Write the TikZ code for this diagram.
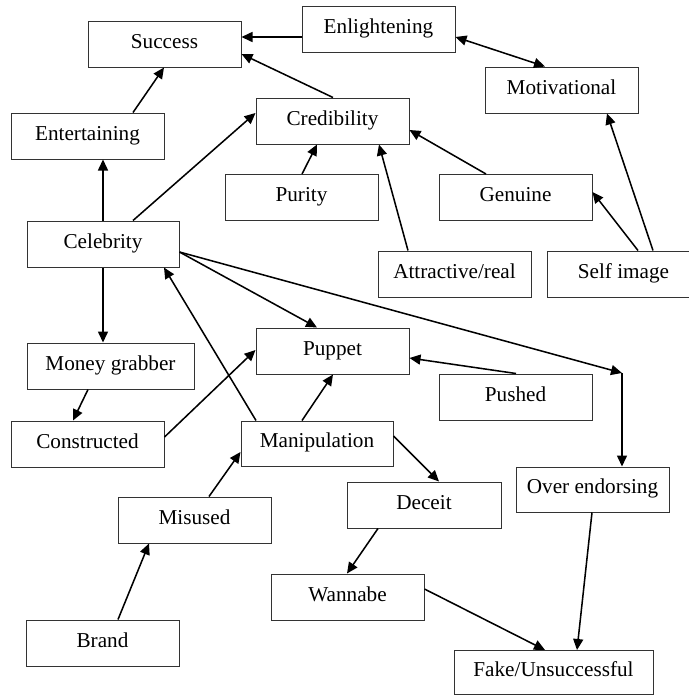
\documentclass[tikz,border=0pt]{standalone}
\usepackage{fontspec}
\setmainfont{Liberation Serif}
\usetikzlibrary{arrows.meta,calc}
\begin{document}
\begin{tikzpicture}[x=0.75pt,y=-0.75pt,
  box/.style={draw=black!80,line width=0.75pt,rectangle,inner sep=0pt,
    minimum width=114.75pt,minimum height=34.5pt,
    font=\fontsize{15.9}{19}\selectfont,text height=11pt,text depth=5pt},
  conn/.style={line width=1.15pt,-{Triangle[length=8.25pt,width=7.5pt]}},
  both/.style={line width=1.15pt,{Triangle[length=8.25pt,width=7.5pt]}-{Triangle[length=8.25pt,width=7.5pt]}}]
\useasboundingbox (0,0) rectangle (689,697);
\clip (0,0) rectangle (689,697);
% nodes
\node[box] (success) at (164.5,44) {Success};
\node[box] (enl) at (378.5,29) {Enlightening};
\node[box] (motiv) at (561.5,90) {Motivational};
\node[box] (entert) at (87.5,136) {Entertaining};
\node[box] (cred) at (332.5,121) {Credibility};
\node[box] (purity) at (301.5,197.5) {Purity};
\node[box] (genuine) at (515.5,197.5) {Genuine};
\node[box,minimum width=114pt] (celeb) at (103,244) {Celebrity};
\node[box] (attr) at (454.5,274) {Attractive/real};
\node[box] (self) at (623.5,274) {Self image};
\node[box,minimum width=125.25pt] (money) at (110.5,366) {Money grabber};
\node[box] (constr) at (87.5,444) {Constructed};
\node[box] (puppet) at (332.5,351) {Puppet};
\node[box,minimum width=114pt,minimum height=33.75pt] (manip) at (317,443.5) {Manipulation};
\node[box] (pushed) at (515.5,397) {Pushed};
\node[box,minimum height=33.75pt] (overend) at (592.5,489.5) {Over endorsing};
\node[box,minimum width=115.5pt] (deceit) at (424,505) {Deceit};
\node[box] (misused) at (194.5,520) {Misused};
\node[box] (wannabe) at (347.5,597) {Wannabe};
\node[box] (brand) at (102.5,643) {Brand};
\node[box,minimum width=149.25pt,minimum height=33pt] (fake) at (553.5,672.5) {Fake/Unsuccessful};
\coordinate (bend) at (622,373);
% connectors
\draw[conn] ($(enl.west)+(0,8)$) -- ($(success.east)+(0,-7)$);
\draw[conn] ($(cred.north)+(0.5,0)$) -- ($(success.east)+(0,10)$);
\draw[both] ($(enl.east)+(0,8)$) -- ($(motiv.north)+(-16.5,0)$);
\draw[conn] ($(entert.north)+(45.5,0)$) -- ($(success.south)+(-0.5,0)$);
\draw[conn] (celeb.north) -- ($(entert.south)+(15.5,0)$);
\draw[conn] ($(celeb.north)+(30,0)$) -- ($(cred.west)+(0,-8)$);
\draw[conn] ($(purity.north)+(0.5,0)$) -- ($(cred.south)+(-15.5,0)$);
\draw[conn] ($(attr.north)+(-46.5,0)$) -- ($(cred.south)+(46.5,0)$);
\draw[conn] ($(genuine.north)+(-29.5,0)$) -- ($(cred.east)+(0,9)$);
\draw[conn] ($(self.north)+(14.5,0)$) -- ($(genuine.east)+(0,-5.5)$);
\draw[conn] ($(self.north)+(29.5,0)$) -- ($(motiv.south)+(45.5,0)$);
\draw[conn] (celeb.south) -- ($(money.north)+(-7.5,0)$);
\draw[conn] ($(celeb.east)+(0,8)$) -- ($(puppet.north)+(-15.5,0)$);
\draw[conn] ($(celeb.east)+(0,8)$) -- (bend);
\draw[conn] (bend) -- ($(overend.north)+(29.5,0)$);
\draw[conn] ($(manip.north)+(-61,0)$) -- ($(celeb.south)+(61,0)$);
\draw[conn] ($(constr.east)+(0,-7)$) -- ($(puppet.west)+(0,-1)$);
\draw[conn] ($(manip.north)+(-15,0)$) -- ($(puppet.south)+(0.5,0)$);
\draw[conn] ($(money.south)+(-22.5,0)$) -- ($(constr.north)+(-14.5,0)$);
\draw[conn] ($(pushed.north)+(0.5,0)$) -- ($(puppet.east)+(0,7)$);
\draw[conn] ($(manip.east)+(0,-7.5)$) -- ($(deceit.north)+(15,0)$);
\draw[conn] ($(misused.north)+(14.5,0)$) -- ($(manip.west)+(0,8.5)$);
\draw[conn] ($(brand.north)+(15.5,0)$) -- ($(misused.south)+(-45.5,0)$);
\draw[conn] ($(deceit.south)+(-46,0)$) -- ($(wannabe.north)+(-0.5,0)$);
\draw[conn] ($(wannabe.east)+(0,-8)$) -- ($(fake.north)+(-8.5,0)$);
\draw[conn] ($(overend.south)+(-0.5,0)$) -- ($(fake.north)+(23.5,0)$);
\end{tikzpicture}
\end{document}
